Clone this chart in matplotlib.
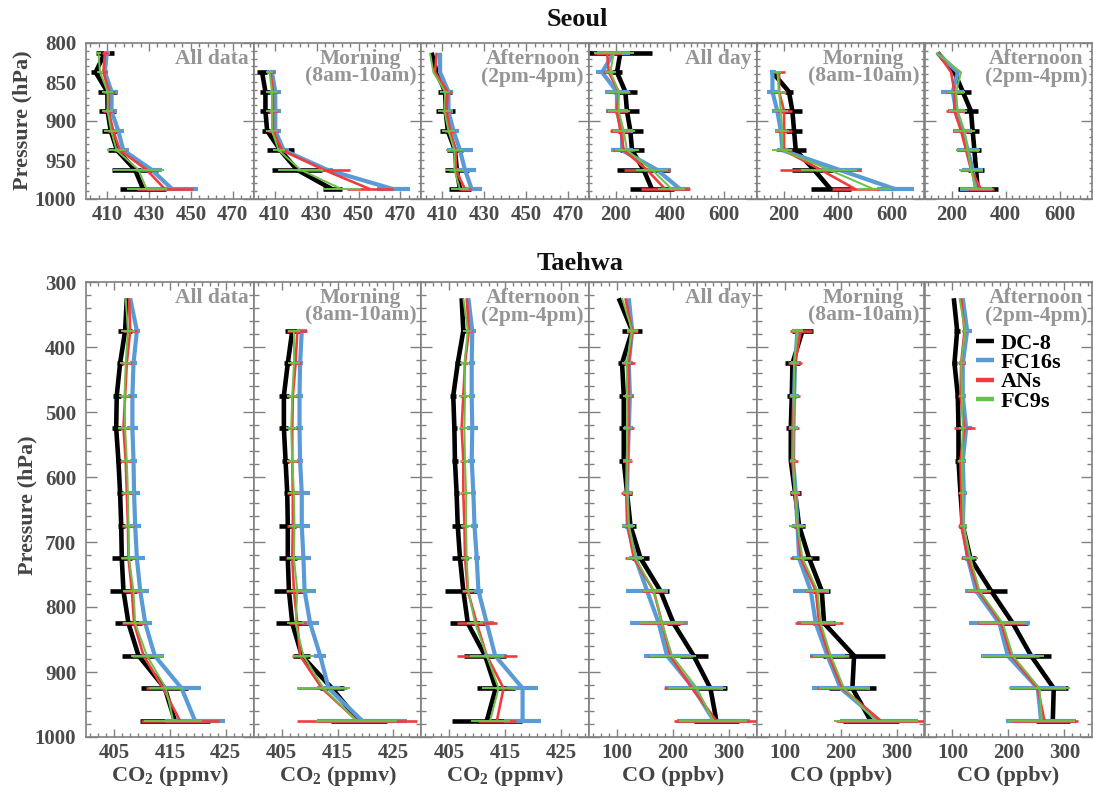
import numpy as np
import matplotlib
matplotlib.use("Agg")
import matplotlib.pyplot as plt
from matplotlib.lines import Line2D
from matplotlib.ticker import FixedLocator, MultipleLocator, FuncFormatter, NullFormatter

plt.rcParams['font.family'] = ['Liberation Serif', 'DejaVu Serif']
plt.rcParams['font.weight'] = 'bold'
plt.rcParams['mathtext.fontset'] = 'custom'
plt.rcParams['mathtext.rm'] = 'Liberation Serif:bold'
plt.rcParams['mathtext.it'] = 'Liberation Serif:bold'
plt.rcParams['mathtext.bf'] = 'Liberation Serif:bold'

nan = np.nan

# series order: DC-8, FC16s, ANs, FC9s
series_names = ["DC-8", "FC16s", "ANs", "FC9s"]
series_colors = ["#000000", "#5b9bd5", "#f03c3c", "#6cc04a"]
series_widths = [3.3, 3.0, 1.9, 1.4]

panel_labels = ["All data", "Morning\n(8am-10am)", "Afternoon\n(2pm-4pm)",
                "All day", "Morning\n(8am-10am)", "Afternoon\n(2pm-4pm)"]
xlabels = [r"CO$_2$ (ppmv)"] * 3 + ["CO (ppbv)"] * 3

seoul_levels = [812.5, 837.5, 862.5, 887.5, 912.5, 937.5, 962.5, 987.5]
taehwa_levels = [325, 375, 425, 475, 525, 575, 625, 675, 725, 775, 825, 875, 925, 975]

# ---------------- Seoul ----------------
seoul_co2_all = [
    [409.0, 404.6, 410.2, 410.3, 411.8, 414.8, 423.4, 427.3],
    [409.9, 409.0, 412.2, 412.2, 415.4, 417.8, 431.3, 441.2],
    [409.0, 408.3, 411.0, 410.8, 413.0, 416.2, 428.9, 437.7],
    [405.9, 406.7, 410.3, 410.3, 412.0, 414.6, 425.0, 429.0]]
seoul_co2_all_err = [
    [4.4, 2.0, 4.4, 4.2, 4.1, 4.5, 11.0, 11.0],
    [1.5, 1.5, 2.5, 2.5, 2.8, 2.8, 5.0, 12.0],
    [1.5, 1.5, 2.8, 2.5, 2.5, 3.0, 5.6, 13.5],
    [1.2, 1.5, 2.8, 2.8, 3.6, 4.4, 12.0, 9.5]]

seoul_co2_morning = [
    [nan, 404.0, 405.6, 405.6, 406.4, 412.7, 420.7, 437.4],
    [nan, 408.7, 410.3, 410.3, 410.3, 414.3, 435.0, 466.8],
    [nan, 408.0, 409.2, 409.2, 409.2, 413.5, 433.4, 455.6],
    [nan, 407.6, 408.7, 408.7, 408.7, 411.9, 422.3, 442.1]]
seoul_co2_morning_err = [
    [nan, 2.4, 2.4, 2.4, 2.4, 6.5, 12.0, 4.5],
    [nan, 2.0, 2.5, 2.5, 2.5, 2.5, 3.0, 8.0],
    [nan, 1.5, 2.5, 2.5, 2.5, 2.5, 12.7, 11.0],
    [nan, 1.5, 2.8, 2.8, 2.8, 2.8, 10.7, 9.0]]

seoul_co2_afternoon = [
    [404.9, 407.3, 411.3, 411.6, 412.6, 416.0, 416.9, 418.4],
    [408.9, 408.9, 412.9, 412.9, 415.3, 418.4, 420.8, 424.0],
    [407.3, 406.5, 412.5, 412.0, 413.7, 416.4, 416.4, 420.8],
    [404.1, 405.7, 411.3, 411.0, 412.9, 415.7, 415.7, 418.4]]
seoul_co2_afternoon_err = [
    [0, 0, 3.2, 4.4, 3.5, 4.0, 5.6, 5.2],
    [0, 0, 2.0, 2.0, 2.5, 6.4, 5.1, 4.8],
    [0, 0, 2.0, 2.0, 2.5, 3.0, 3.0, 3.0],
    [0, 0, 2.5, 3.0, 3.0, 4.0, 4.5, 4.5]]

seoul_co_allday = [
    [215.6, 203.0, 234.0, 240.0, 252.5, 258.7, 301.7, 332.5],
    [191.0, 148.0, 203.0, 203.0, 221.8, 221.8, 351.0, 437.0],
    [166.4, 172.6, 209.5, 203.0, 215.6, 228.0, 314.0, 381.7],
    [191.0, 178.7, 209.5, 209.5, 228.0, 240.0, 332.5, 406.0]]
seoul_co_allday_err = [
    [117, 20, 43, 43, 45, 43, 98, 80],
    [60, 21, 43, 40, 40, 40, 49, 37],
    [50, 20, 40, 40, 40, 40, 86, 90],
    [74, 20, 40, 40, 40, 45, 60, 50]]

seoul_co_morning = [
    [nan, 157.8, 219.0, 231.6, 237.8, 244.0, 311.6, 373.0],
    [nan, 157.8, 158.0, 176.0, 188.6, 194.7, 404.0, 613.0],
    [nan, 182.4, 182.4, 200.9, 200.9, 200.9, 336.0, 465.0],
    [nan, 176.0, 182.4, 188.6, 194.7, 194.7, 367.0, 533.0]]
seoul_co_morning_err = [
    [nan, 10, 15, 37, 31, 37, 80, 74],
    [nan, 10, 20, 20, 20, 20, 86, 68],
    [nan, 21, 25, 30, 30, 30, 150, 86],
    [nan, 15, 25, 25, 25, 37, 105, 62]]

seoul_co_afternoon = [
    [149.0, 210.7, 241.5, 272.0, 278.0, 284.5, 290.6, 297.0],
    [146.7, 223.0, 204.5, 216.8, 241.5, 260.0, 278.0, 290.6],
    [149.0, 198.4, 210.7, 210.7, 235.0, 253.7, 272.0, 309.0],
    [143.0, 235.0, 216.8, 223.0, 247.6, 260.0, 272.0, 290.6]]
seoul_co_afternoon_err = [
    [0, 0, 30, 25, 25, 25, 30, 74],
    [0, 0, 43, 30, 35, 40, 40, 60],
    [0, 0, 30, 30, 30, 35, 40, 49],
    [0, 0, 33, 33, 40, 44, 46, 61]]

# ---------------- Taehwa ----------------
taehwa_co2_all = [
    [407.3, 407.0, 406.1, 405.5, 405.4, 405.8, 406.1, 406.3, 406.4, 406.7, 407.6, 409.4, 414.1, 415.9],
    [407.9, 409.1, 408.5, 408.3, 408.3, 408.5, 408.6, 408.8, 409.1, 409.7, 410.6, 412.3, 417.1, 419.5],
    [407.7, 407.9, 407.3, 407.0, 406.7, 407.1, 407.3, 407.5, 407.6, 408.2, 408.6, 410.3, 413.8, 416.8],
    [407.1, 407.5, 407.1, 406.9, 407.0, 407.3, 407.5, 407.6, 407.7, 408.5, 408.8, 410.9, 414.3, 415.6]]
taehwa_co2_all_err = [
    [0, 1.2, 0.6, 0.7, 0.8, 0.5, 0.5, 0.6, 1.8, 2.4, 2.5, 3.0, 4.2, 6.3],
    [0, 0.6, 0.6, 0.8, 1.0, 0.6, 1.0, 1.0, 1.4, 1.6, 1.2, 1.7, 3.5, 5.4],
    [0, 1.2, 1.0, 1.0, 1.0, 1.0, 1.0, 1.0, 1.3, 1.5, 2.1, 2.0, 3.0, 7.0],
    [0, 1.2, 1.0, 1.0, 1.2, 1.0, 1.0, 1.0, 1.5, 1.8, 2.2, 2.8, 3.1, 5.2]]

taehwa_co2_morning = [
    [nan, 406.9, 406.1, 405.4, 405.4, 405.7, 406.0, 406.1, 406.1, 406.3, 406.9, 408.6, 414.0, 418.8],
    [nan, 408.6, 408.3, 408.2, 408.2, 408.3, 408.6, 408.6, 408.9, 409.1, 410.1, 411.9, 413.4, 419.4],
    [nan, 407.8, 407.5, 407.0, 406.9, 406.9, 407.0, 407.0, 406.9, 407.2, 407.8, 408.3, 412.2, 418.5],
    [nan, 407.2, 407.2, 406.9, 406.7, 406.9, 407.2, 407.3, 407.2, 407.8, 407.5, 408.9, 412.5, 418.4]]
taehwa_co2_morning_err = [
    [nan, 1.3, 0.6, 0.9, 0.8, 0.6, 0.6, 1.5, 1.6, 2.7, 3.0, 1.5, 2.1, 5.0],
    [nan, 0.9, 0.6, 0.6, 0.7, 0.6, 1.5, 1.5, 1.3, 2.0, 1.5, 1.1, 2.0, 8.0],
    [nan, 1.8, 1.0, 1.0, 1.0, 1.0, 1.0, 1.0, 1.2, 1.5, 1.5, 1.5, 4.5, 10.8],
    [nan, 1.0, 1.0, 1.0, 1.0, 1.0, 1.0, 1.0, 1.2, 1.8, 1.5, 1.8, 4.8, 7.2]]

taehwa_co2_afternoon = [
    [407.2, 407.5, 406.5, 405.7, 405.9, 406.0, 406.3, 406.5, 406.9, 407.5, 408.3, 411.4, 413.3, 411.7],
    [408.4, 409.1, 409.0, 409.0, 409.1, 409.0, 409.3, 409.5, 409.9, 410.2, 411.7, 413.2, 418.1, 418.1],
    [408.1, 408.5, 407.8, 407.5, 407.2, 407.5, 407.5, 407.7, 407.8, 408.3, 409.9, 411.7, 414.7, 413.5],
    [407.5, 408.3, 407.7, 407.8, 407.7, 407.8, 408.0, 408.0, 408.1, 408.4, 409.6, 411.7, 413.8, 412.3]]
taehwa_co2_afternoon_err = [
    [0, 0.5, 0.5, 0.5, 0.5, 0.6, 0.5, 1.1, 1.5, 3.2, 3.2, 3.8, 3.4, 6.3],
    [0, 0.6, 0.5, 0.5, 1.0, 0.6, 0.5, 0.7, 0.5, 0.8, 1.2, 2.0, 2.7, 3.3],
    [0, 0.6, 0.5, 0.6, 0.5, 0.6, 0.6, 0.6, 0.8, 1.0, 3.6, 5.4, 1.5, 3.4],
    [0, 0.8, 0.8, 1.0, 0.8, 0.8, 0.9, 0.9, 1.0, 1.0, 1.5, 3.0, 3.0, 3.5]]

taehwa_co_allday = [
    [103, 127, 109, 112, 112, 112, 118, 124, 142, 177.5, 201, 237, 267, 277.7],
    [121, 127, 121, 123, 121, 119, 118, 119, 133, 153.7, 174.6, 189.5, 237, 273],
    [115, 127, 121, 121, 121, 119, 117, 119, 130, 165.6, 180.5, 195.4, 234, 277.7],
    [109, 127, 117, 118, 118, 118, 118, 121, 133, 165.6, 180.5, 198.4, 243, 271.7]]
taehwa_co_allday_err = [
    [0, 18, 7, 8, 8, 8, 8, 10, 15, 15, 12, 25, 30, 40],
    [0, 10, 8, 8, 8, 8, 8, 10, 12, 37, 52, 42, 52, 65],
    [0, 10, 12, 8, 10, 8, 10, 10, 15, 21, 40, 40, 50, 75],
    [0, 10, 8, 8, 8, 8, 8, 12, 15, 20, 40, 42, 52, 61]]

taehwa_co_morning = [
    [nan, 131.7, 113.8, 112.6, 110.8, 110.8, 118.5, 125.7, 143.6, 166.2, 170.4, 224, 221, 253.8],
    [nan, 122.7, 118.5, 116.8, 115.6, 115.0, 119.7, 122.7, 125.7, 146.6, 155.5, 176.4, 200, 268.7],
    [nan, 128.7, 118.5, 116.8, 115.0, 115.0, 118.5, 122.7, 128.7, 155.5, 161.5, 179.3, 203, 271.7],
    [nan, 122.7, 116.8, 116.8, 115.6, 115.0, 118.5, 122.7, 131.7, 158.5, 164.4, 182.3, 206, 262.8]]
taehwa_co_morning_err = [
    [nan, 18, 13, 8, 8, 4, 10, 10, 18, 15, 20, 55, 42, 50],
    [nan, 10, 8, 8, 8, 6, 6, 10, 12, 32, 33, 32, 52, 70],
    [nan, 20, 13, 10, 10, 8, 8, 12, 20, 20, 43, 35, 45, 80],
    [nan, 10, 8, 8, 8, 6, 8, 15, 15, 21, 35, 32, 45, 75]]

taehwa_co_afternoon = [
    [102.4, 108.4, 103.6, 109.6, 110.8, 110.8, 114.4, 118.5, 132.2, 169.0, 208.0, 240.7, 281.2, 279.5],
    [118.5, 126.3, 118.5, 118.5, 124.5, 118.5, 120.3, 118.5, 127.5, 142.4, 184.1, 199.0, 252.6, 258.6],
    [115.6, 121.5, 115.6, 114.4, 121.5, 114.4, 115.6, 115.6, 127.5, 146.6, 187.0, 205.0, 252.6, 264.6],
    [112.6, 122.7, 115.6, 116.8, 118.5, 116.8, 118.5, 120.3, 132.2, 148.3, 190.0, 208.0, 255.6, 259.8]]
taehwa_co_afternoon_err = [
    [0, 5, 4, 5, 5, 6, 4, 6, 10, 29, 27, 35, 25, 30],
    [0, 8, 6, 5, 10, 6, 6, 6, 10, 20, 55, 48, 50, 63],
    [0, 5, 6, 5, 18, 6, 6, 6, 12, 20, 42, 50, 50, 60],
    [0, 6, 6, 5, 6, 6, 6, 6, 14, 20, 42, 55, 54, 60]]

seoul_panels = [(seoul_co2_all, seoul_co2_all_err), (seoul_co2_morning, seoul_co2_morning_err),
                (seoul_co2_afternoon, seoul_co2_afternoon_err), (seoul_co_allday, seoul_co_allday_err),
                (seoul_co_morning, seoul_co_morning_err), (seoul_co_afternoon, seoul_co_afternoon_err)]
taehwa_panels = [(taehwa_co2_all, taehwa_co2_all_err), (taehwa_co2_morning, taehwa_co2_morning_err),
                 (taehwa_co2_afternoon, taehwa_co2_afternoon_err), (taehwa_co_allday, taehwa_co_allday_err),
                 (taehwa_co_morning, taehwa_co_morning_err), (taehwa_co_afternoon, taehwa_co_afternoon_err)]

# ---------------- layout (pixels) ----------------
W, H = 1093, 793
fig = plt.figure(figsize=(W / 100, H / 100), dpi=100)
left_px = 86
panel_w = 167.7
spine_col = "#808080"
tick_lab_col = "#4a4a4a"


def add_px_axes(x0, y0, w, h):
    return fig.add_axes([x0 / W, 1 - (y0 + h) / H, w / W, h / H])


def style_axis(ax, top_row, col):
    for s in ax.spines.values():
        s.set_color(spine_col)
        s.set_linewidth(1.2)
    ax.tick_params(which="both", direction="in", top=True, right=True,
                   colors=spine_col, labelcolor=tick_lab_col, labelsize=15, width=1.0)
    if top_row:
        ax.set_ylim(1000, 800)
        ax.yaxis.set_major_locator(MultipleLocator(100))
        ax.yaxis.set_minor_locator(MultipleLocator(10))
        ax.yaxis.set_minor_formatter(FuncFormatter(lambda v, p: "%d" % v if abs(v % 100 - 50) < 1e-6 else ""))
        ax.tick_params(axis="y", which="major", length=8)
        ax.tick_params(axis="y", which="minor", length=2.5)
    else:
        ax.set_ylim(1000, 300)
        ax.yaxis.set_major_locator(MultipleLocator(100))
        ax.yaxis.set_minor_locator(MultipleLocator(20))
        ax.tick_params(axis="y", which="major", length=8)
        ax.tick_params(axis="y", which="minor", length=3.6)
    ax.tick_params(axis="y", which="both", pad=7)
    ax.tick_params(axis="x", which="major", length=5.5, pad=4)
    ax.tick_params(axis="x", which="minor", length=3)
    if col > 0:
        ax.tick_params(axis="y", which="both", labelleft=False)
        ax.yaxis.set_minor_formatter(NullFormatter())

    if col < 3:
        if top_row:
            ax.set_xlim(400, 480)
            ax.xaxis.set_major_locator(FixedLocator([410, 430, 450, 470]))
            ax.xaxis.set_minor_locator(FixedLocator(np.arange(402, 480, 4)))
        else:
            ax.set_xlim(400, 430)
            ax.xaxis.set_major_locator(FixedLocator([405, 415, 425]))
            ax.xaxis.set_minor_locator(FixedLocator(405 + (10 / 7) * np.arange(-3, 18)))
    else:
        if top_row:
            ax.set_xlim(100, 720)
            ax.xaxis.set_major_locator(FixedLocator([200, 400, 600]))
            ax.xaxis.set_minor_locator(FixedLocator(np.arange(100, 720, 25)))
        else:
            ax.set_xlim(50, 350)
            ax.xaxis.set_major_locator(FixedLocator([100, 200, 300]))
            ax.xaxis.set_minor_locator(FixedLocator(100 + (100 / 7) * np.arange(-3, 18)))


def draw_row(panels, levels, y0, h, top_row):
    axes = []
    for col, (means, errs) in enumerate(panels):
        ax = add_px_axes(left_px + col * panel_w, y0, panel_w, h)
        style_axis(ax, top_row, col)
        for k in range(4):
            ax.errorbar(means[k], levels, xerr=errs[k], color=series_colors[k],
                        lw=series_widths[k], elinewidth=series_widths[k], capsize=0,
                        solid_capstyle="butt", zorder=2 + k)
        ty = 1 - 6 / h
        ax.text(1 - 5 / panel_w, ty, panel_labels[col], transform=ax.transAxes,
                ha="right", va="top", multialignment="center", fontsize=15.5,
                color="#959595", linespacing=0.85, zorder=10)
        axes.append(ax)
    return axes


top_axes = draw_row(seoul_panels, seoul_levels, 43, 156, True)
bot_axes = draw_row(taehwa_panels, taehwa_levels, 282, 455, False)

# titles and axis labels
fig.text(577 / W, 1 - 20 / H, "Seoul", ha="center", va="center", fontsize=19, color="#111111")
fig.text(580 / W, 1 - 263 / H, "Taehwa", ha="center", va="center", fontsize=19, color="#111111")
fig.text(22 / W, 1 - 120 / H, "Pressure (hPa)", rotation=90, ha="center", va="center",
         fontsize=16, color="#444444")
fig.text(27 / W, 1 - 505 / H, "Pressure (hPa)", rotation=90, ha="center", va="center",
         fontsize=16, color="#444444")
for col in range(6):
    fig.text((left_px + (col + 0.5) * panel_w) / W, 1 - 776 / H, xlabels[col],
             ha="center", va="center", fontsize=16, color="#444444")

handles = [Line2D([], [], color=c, lw=3.2, solid_capstyle="butt") for c in series_colors]
bot_axes[5].legend(handles, series_names, loc="upper left", bbox_to_anchor=(0.31, 0.888),
                   frameon=False, fontsize=16, handlelength=0.8, handletextpad=0.3,
                   labelspacing=-0.05, borderpad=0, borderaxespad=0)

fig.savefig("out.png", dpi=100)
